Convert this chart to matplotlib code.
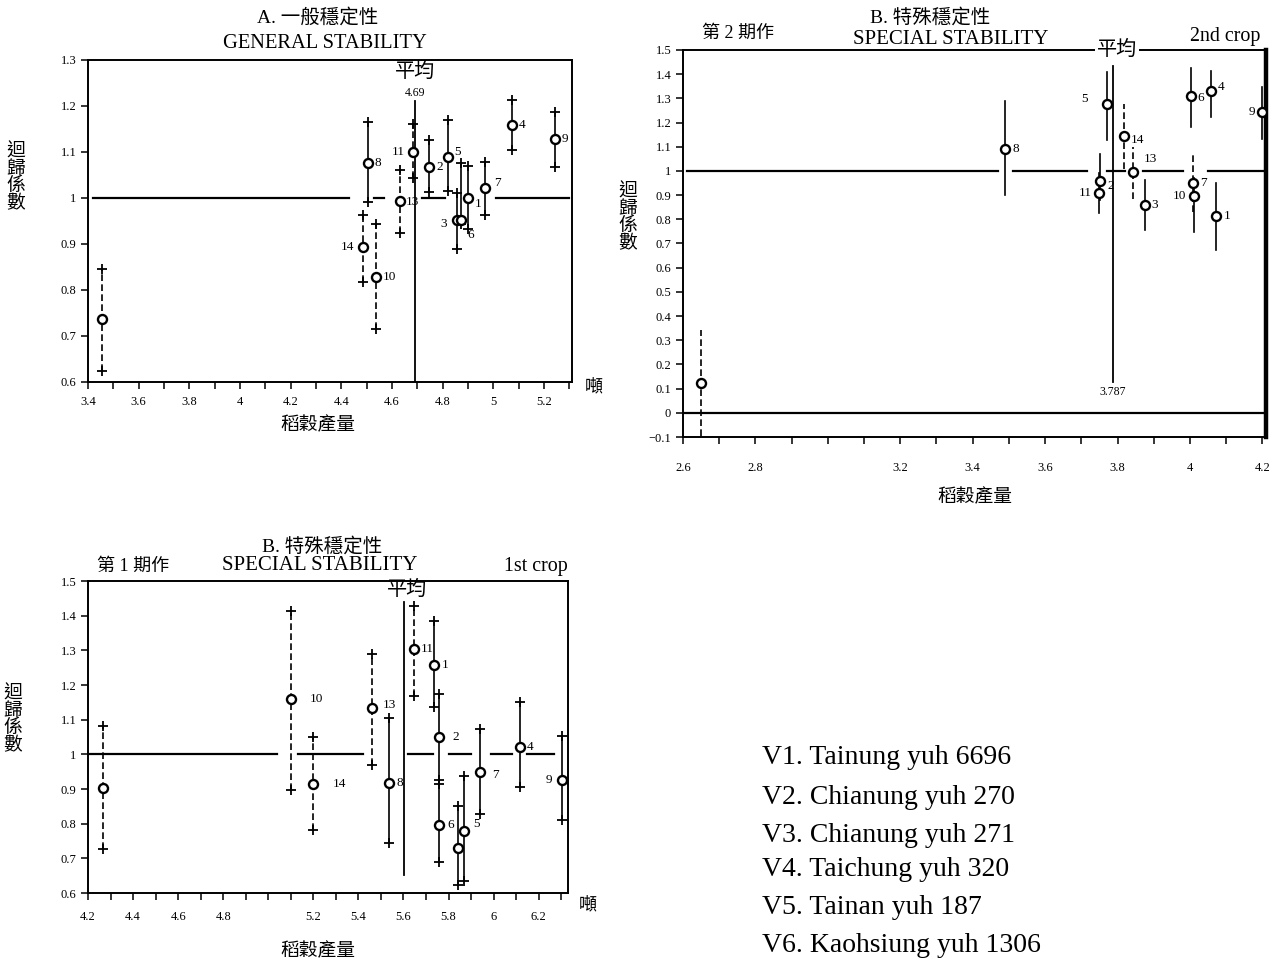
"""
Regression coefficient vs. grain yield: general and special stability panels.
Output: out.png
"""

import matplotlib
matplotlib.use("Agg")
import matplotlib.pyplot as plt
import numpy as np
from matplotlib.ticker import FixedLocator, FuncFormatter

plt.rcParams["font.family"] = ["Liberation Serif", "Noto Sans CJK TC"]
plt.rcParams["axes.unicode_minus"] = True

W, H = 1280, 964

# --- A. general stability ---
A_LABELS = ["", "8", "14", "10", "13", "11", "2", "5", "3", "6", "1", "7", "4", "9"]
A_YIELD = [3.457, 4.503, 4.485, 4.537, 4.632, 4.684, 4.746, 4.819, 4.856, 4.870, 4.898, 4.968, 5.073, 5.243]
A_COEF = [0.736, 1.076, 0.894, 0.828, 0.994, 1.101, 1.068, 1.089, 0.952, 0.952, 1.000, 1.021, 1.159, 1.128]
A_HIGH = [0.846, 1.165, 0.964, 0.944, 1.060, 1.161, 1.126, 1.170, 1.011, 1.076, 1.069, 1.078, 1.214, 1.186]
A_LOW = [0.623, 0.991, 0.818, 0.716, 0.924, 1.043, 1.014, 1.015, 0.890, 0.944, 0.933, 0.964, 1.105, 1.068]
A_DASHED = [1, 0, 1, 1, 1, 1, 0, 0, 0, 0, 0, 0, 0, 0]
A_MEAN = 4.69

# --- B. special stability, 2nd crop ---
B2_LABELS = ["", "8", "5", "14", "2", "11", "13", "3", "6", "4", "7", "10", "1", "9"]
B2_YIELD = [2.649, 3.490, 3.772, 3.818, 3.752, 3.748, 3.843, 3.875, 4.004, 4.057, 4.008, 4.010, 4.073, 4.198]
B2_COEF = [0.122, 1.090, 1.276, 1.144, 0.960, 0.910, 0.996, 0.858, 1.311, 1.329, 0.950, 0.897, 0.815, 1.243]
B2_HIGH = [0.343, 1.289, 1.407, 1.276, 1.071, 0.990, 1.100, 0.962, 1.425, 1.415, 1.071, 0.970, 0.951, 1.347]
B2_LOW = [-0.095, 0.900, 1.126, 1.010, 0.880, 0.828, 0.882, 0.754, 1.182, 1.225, 0.830, 0.747, 0.674, 1.132]
B2_DASHED = [1, 0, 0, 1, 0, 0, 1, 0, 0, 0, 1, 0, 0, 0]
B2_MEAN = 3.787

# --- B. special stability, 1st crop ---
B1_LABELS = ["", "10", "14", "13", "8", "11", "1", "2", "6", "", "5", "7", "4", "9"]
B1_YIELD = [4.266, 5.099, 5.198, 5.459, 5.537, 5.647, 5.737, 5.757, 5.757, 5.843, 5.868, 5.940, 6.117, 6.304]
B1_COEF = [0.903, 1.159, 0.913, 1.134, 0.916, 1.304, 1.259, 1.049, 0.795, 0.731, 0.779, 0.948, 1.022, 0.925]
B1_HIGH = [1.082, 1.414, 1.049, 1.288, 1.106, 1.429, 1.385, 1.173, 0.913, 0.851, 0.937, 1.072, 1.152, 1.052]
B1_LOW = [0.728, 0.898, 0.783, 0.969, 0.743, 1.169, 1.137, 0.925, 0.690, 0.622, 0.634, 0.829, 0.906, 0.812]
B1_DASHED = [1, 1, 1, 1, 0, 1, 0, 0, 0, 0, 0, 0, 0, 0]
B1_MEAN = 5.603

VARIETIES = [
    "V1. Tainung yuh 6696",
    "V2. Chianung yuh 270",
    "V3. Chianung yuh 271",
    "V4. Taichung yuh 320",
    "V5. Tainan yuh 187",
    "V6. Kaohsiung yuh 1306",
]

# broken reference line at b = 1 (x-ranges of the drawn pieces)
A_REF = [(3.42, 4.43), (4.53, 4.57), (4.72, 4.81), (5.01, 5.30)]
B2_REF = [(2.61, 3.47), (3.51, 3.715), (3.77, 3.82), (3.87, 3.98), (4.05, 4.21)]
B1_REF = [(4.205, 5.04), (5.13, 5.42), (5.62, 5.73), (5.80, 5.90), (5.99, 6.08), (6.15, 6.27)]

# label offsets (points) for the variety numbers
A_OFF = {"14": (-6, 0), "11": (-6, 0), "3": (-7, -3), "6": (5, -11), "5": (5, 4),
         "1": (5, -4), "7": (6, 4), "13": (4, -1)}
B2_OFF = {"5": (-14, 4), "14": (5, -3), "2": (5, -4), "11": (-5, 0), "13": (8, 9),
          "10": (-5, 0), "9": (-5, 0), "4": (5, 3), "6": (4, -2)}
B1_OFF = {"10": (14, 0), "14": (14, 0), "13": (8, 2), "2": (10, 0), "5": (7, 5),
          "7": (9, -2), "9": (-7, 0), "6": (6, 0)}


def fig_xy(px, py):
    return px / W, 1 - py / H


def num_fmt(v, pos=None):
    return f"{round(v, 3):g}".replace("-", "\u2212")


def ref_line(ax, pieces, level=1.0):
    for a, b in pieces:
        ax.plot([a, b], [level, level], color="k", lw=1.6, zorder=2)


def draw_points(ax, xs, ys, lows, highs, dashed, labels, offsets, caps=True):
    for x, y, lo, hi, d, lab in zip(xs, ys, lows, highs, dashed, labels):
        ls = (0, (4, 2)) if d else "-"
        ax.plot([x, x], [lo, hi], color="k", lw=1.2, ls=ls, zorder=3)
        if caps:
            ax.plot([x, x], [lo, hi], ls="none", marker="+", ms=7, mew=1.3, color="k", zorder=3)
        ax.plot(x, y, "o", ms=6.5, mfc="white", mec="k", mew=1.7, zorder=5)
        if lab:
            dx, dy = offsets.get(lab, (5, 0))
            ax.annotate(lab, (x, y), xytext=(dx, dy), textcoords="offset points",
                        ha="left" if dx >= 0 else "right", va="center", fontsize=9.5)


def style_axes(ax, xticks, xlabeled, yticks, xpad):
    ax.xaxis.set_major_locator(FixedLocator(xticks))
    ax.yaxis.set_major_locator(FixedLocator(yticks))
    lab = [round(v, 2) for v in xlabeled]
    ax.xaxis.set_major_formatter(
        FuncFormatter(lambda v, p: num_fmt(v) if round(v, 2) in lab else ""))
    ax.yaxis.set_major_formatter(FuncFormatter(num_fmt))
    ax.tick_params(direction="out", length=5, width=1.1, labelsize=9)
    ax.tick_params(axis="x", pad=xpad)
    for s in ax.spines.values():
        s.set_linewidth(1.4)


def stacked_ylabel(fig, px, py):
    x, y = fig_xy(px, py)
    fig.text(x, y, "迴\n歸\n係\n數", ha="center", va="center", fontsize=13.5, linespacing=1.0)


fig = plt.figure(figsize=(W / 100, H / 100), dpi=100)

# ---------- panel A ----------
axA = fig.add_axes([88 / W, 1 - 382 / H, 484 / W, 322 / H])
axA.set_xlim(3.4, 5.31)
axA.set_ylim(0.6, 1.3)
ref_line(axA, A_REF)
axA.plot([A_MEAN, A_MEAN], [0.6, 1.21], color="k", lw=1.3)
axA.text(A_MEAN, 1.228, "4.69", ha="center", va="center", fontsize=8.5)
axA.text(A_MEAN, 1.272, "平均", ha="center", va="center", fontsize=14.5)
draw_points(axA, A_YIELD, A_COEF, A_LOW, A_HIGH, A_DASHED, A_LABELS, A_OFF)
style_axes(axA, np.round(np.arange(3.4, 5.31, 0.1), 2), np.arange(3.4, 5.21, 0.2),
           np.round(np.arange(0.6, 1.31, 0.1), 2), 5)

fig.text(*fig_xy(318, 17), "A. 一般穩定性", ha="center", va="center", fontsize=14)
fig.text(*fig_xy(325, 43), "GENERAL STABILITY", ha="center", va="center", fontsize=14.8)
fig.text(*fig_xy(318, 425), "稻穀產量", ha="center", va="center", fontsize=13.5)
fig.text(*fig_xy(594, 388), "噸", ha="center", va="center", fontsize=13)
stacked_ylabel(fig, 16, 178)

# ---------- panel B, 2nd crop ----------
axB2 = fig.add_axes([683 / W, 1 - 437 / H, 583 / W, 387 / H])
axB2.set_xlim(2.6, 4.21)
axB2.set_ylim(-0.1, 1.5)
axB2.axhline(0, color="k", lw=1.6)
ref_line(axB2, B2_REF)
axB2.plot([B2_MEAN, B2_MEAN], [0.128, 1.433], color="k", lw=1.3)
axB2.text(B2_MEAN, 0.085, "3.787", ha="center", va="center", fontsize=8.5)
axB2.text(B2_MEAN + 0.012, 1.5, "平均", ha="center", va="center", fontsize=14.5, zorder=10,
          clip_on=False, bbox=dict(facecolor="white", edgecolor="none", pad=1.5))
draw_points(axB2, B2_YIELD, B2_COEF, B2_LOW, B2_HIGH, B2_DASHED, B2_LABELS, B2_OFF, caps=False)
style_axes(axB2, np.round(np.arange(2.6, 4.21, 0.1), 2), [2.6, 2.8, 3.2, 3.4, 3.6, 3.8, 4.0, 4.2],
           np.round(np.arange(-0.1, 1.51, 0.1), 2), 13)
axB2.spines["right"].set_linewidth(3.2)

fig.text(*fig_xy(930, 17), "B. 特殊穩定性", ha="center", va="center", fontsize=14)
fig.text(*fig_xy(951, 40), "SPECIAL STABILITY", ha="center", va="center", fontsize=15)
fig.text(*fig_xy(738, 33), "第 2 期作", ha="center", va="center", fontsize=13)
fig.text(*fig_xy(1225, 37), "2nd crop", ha="center", va="center", fontsize=14.4)
fig.text(*fig_xy(975, 497), "稻穀產量", ha="center", va="center", fontsize=13.5)
stacked_ylabel(fig, 628, 218)

# ---------- panel B, 1st crop ----------
axB1 = fig.add_axes([88 / W, 1 - 893 / H, 480 / W, 312 / H])
axB1.set_xlim(4.2, 6.33)
axB1.set_ylim(0.6, 1.5)
ref_line(axB1, B1_REF)
axB1.plot([B1_MEAN, B1_MEAN], [0.651, 1.44], color="k", lw=1.3)
axB1.text(B1_MEAN + 0.013, 1.472, "平均", ha="center", va="center", fontsize=14.5)
draw_points(axB1, B1_YIELD, B1_COEF, B1_LOW, B1_HIGH, B1_DASHED, B1_LABELS, B1_OFF)
style_axes(axB1, np.round(np.arange(4.2, 6.31, 0.1), 2),
           [4.2, 4.4, 4.6, 4.8, 5.2, 5.4, 5.6, 5.8, 6.0, 6.2],
           np.round(np.arange(0.6, 1.51, 0.1), 2), 8)

fig.text(*fig_xy(322, 546), "B. 特殊穩定性", ha="center", va="center", fontsize=14)
fig.text(*fig_xy(320, 566), "SPECIAL STABILITY", ha="center", va="center", fontsize=15)
fig.text(*fig_xy(133, 566), "第 1 期作", ha="center", va="center", fontsize=13)
fig.text(*fig_xy(536, 566), "1st crop", ha="center", va="center", fontsize=14.4)
fig.text(*fig_xy(318, 951), "稻穀產量", ha="center", va="center", fontsize=13.5)
fig.text(*fig_xy(588, 906), "噸", ha="center", va="center", fontsize=13)
stacked_ylabel(fig, 13, 720)

# ---------- variety key ----------
for i, name in enumerate(VARIETIES):
    py = [757, 797, 836, 869, 908, 946][i]
    fig.text(*fig_xy(762, py), name, ha="left", va="center", fontsize=20)

fig.savefig("out.png", dpi=100)
plt.close(fig)
